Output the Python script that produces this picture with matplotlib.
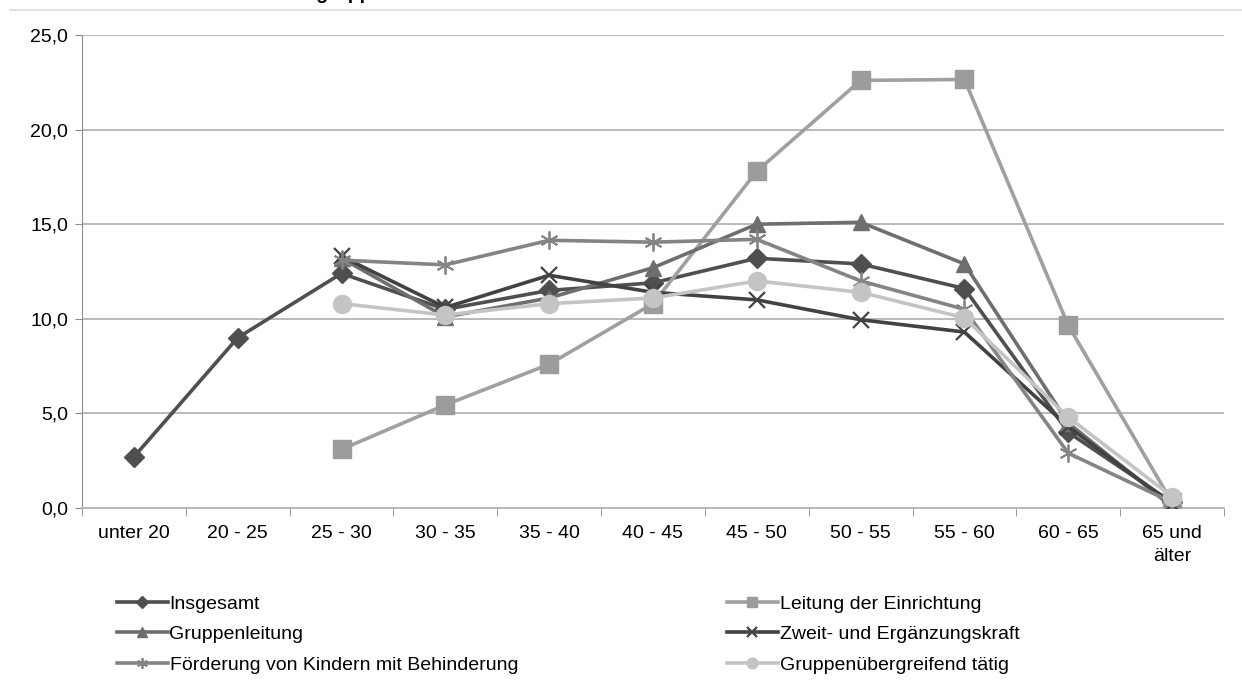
import numpy as np
import matplotlib
matplotlib.use("Agg")
import matplotlib.pyplot as plt
from matplotlib.lines import Line2D

plt.rcParams['font.family'] = ['Liberation Sans', 'DejaVu Sans']

categories = ["unter 20", "20 - 25", "25 - 30", "30 - 35", "35 - 40", "40 - 45",
              "45 - 50", "50 - 55", "55 - 60", "60 - 65", "65 und\nälter"]

nan = np.nan
insgesamt = [2.7, 9.0, 12.4, 10.5, 11.5, 11.9, 13.2, 12.9, 11.6, 4.0, 0.3]
leitung = [nan, nan, 3.1, 5.45, 7.6, 10.8, 17.8, 22.6, 22.65, 9.65, 0.3]
gruppenleitung = [nan, nan, 13.2, 10.1, 11.1, 12.7, 15.0, 15.1, 12.9, 4.5, 0.05]
zweitkraft = [nan, nan, 13.3, 10.6, 12.3, 11.4, 11.0, 9.95, 9.3, 4.3, 0.2]
foerderung = [nan, nan, 13.1, 12.85, 14.15, 14.05, 14.2, 12.0, 10.5, 2.9, 0.3]
uebergreifend = [nan, nan, 10.8, 10.2, 10.8, 11.1, 12.0, 11.4, 10.05, 4.8, 0.6]

series_labels = ["Insgesamt", "Leitung der Einrichtung", "Gruppenleitung",
                 "Zweit- und Ergänzungskraft",
                 "Förderung von Kindern mit Behinderung",
                 "Gruppenübergreifend tätig"]
yticks = [0, 5, 10, 15, 20, 25]
ytick_labels = ["0,0", "5,0", "10,0", "15,0", "20,0", "25,0"]

fig = plt.figure(figsize=(12.42, 6.96), dpi=100)
ax = fig.add_axes([82/1242, 1-508/696, (1224-82)/1242, (508-35)/696])

x = np.arange(len(categories))
styles = [
    (insgesamt, dict(color="#4f4f4f", marker="D", markersize=10, mfc="#4f4f4f", mec="#4f4f4f")),
    (leitung, dict(color="#a0a0a0", marker="s", markersize=12.5, mfc="#9c9c9c", mec="#9c9c9c")),
    (gruppenleitung, dict(color="#6e6e6e", marker="^", markersize=12, mfc="#6e6e6e", mec="#6e6e6e")),
    (zweitkraft, dict(color="#424242", marker="x", markersize=12, mew=1.6)),
    (foerderung, dict(color="#848484", marker=(6, 2, 0), markersize=13, mew=1.3)),
    (uebergreifend, dict(color="#c4c4c4", marker="o", markersize=13, mfc="#c4c4c4", mec="#c4c4c4")),
]
handles = []
for (vals, st), lab in zip(styles, series_labels):
    h, = ax.plot(x, vals, lw=2.6, label=lab, zorder=3, **st)
    handles.append(h)

ax.set_xlim(-0.5, len(categories) - 0.5)
ax.set_ylim(0, 25)
ax.set_yticks(yticks)
ax.set_yticklabels(ytick_labels)
ax.set_xticks(x)
ax.set_xticklabels(categories, linespacing=1.45)
ax.set_xticks(np.arange(-0.5, len(categories)), minor=True)
ax.tick_params(axis="x", which="major", length=0, pad=12, labelsize=14)
ax.tick_params(axis="x", which="minor", length=6, color="#8c8c8c", direction="out")
ax.tick_params(axis="y", length=5, color="#8c8c8c", labelsize=14, pad=5)
ax.grid(axis="y", color="#b4b4b4", lw=1.3, zorder=0)
for s in ["top", "right"]:
    ax.spines[s].set_visible(False)
ax.spines["left"].set_color("#8c8c8c")
ax.spines["bottom"].set_color("#b4b4b4")
ax.spines["bottom"].set_linewidth(1.3)
ax.set_axisbelow(True)

# legends
order1 = [0, 2, 4]
order2 = [1, 3, 5]
for order, xpos in [(order1, 117/1242), (order2, 727/1242)]:
    fig.legend([handles[i] for i in order], [series_labels[i] for i in order],
               loc="upper left", bbox_to_anchor=(xpos, 1-595/696), frameon=False,
               fontsize=14, handlelength=2.6, handletextpad=0.1, labelspacing=0.66,
               markerscale=0.6, borderaxespad=0, borderpad=0)

# top border line and clipped title
fig.add_artist(Line2D([10/1242, 1.0], [1-10/696, 1-10/696], color="#dcdcdc", lw=1.2))
fig.text(262/1242, 1 + 1/696, "Altersgruppen", fontsize=14, fontweight="bold",
         ha="left", va="baseline")

fig.savefig("out.png", dpi=100)
